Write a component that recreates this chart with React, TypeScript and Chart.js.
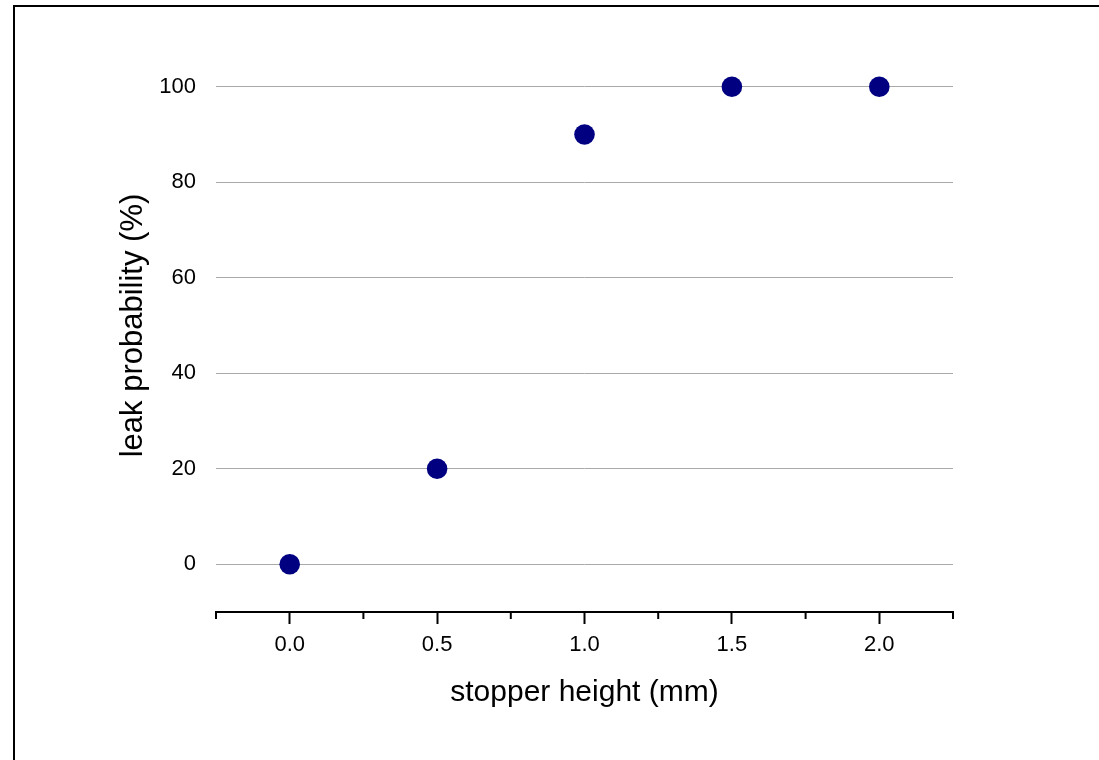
import React, { useEffect, useRef } from "react";
import { Chart, registerables } from "chart.js";

Chart.register(...registerables);

const stopperHeights = [0.0, 0.5, 1.0, 1.5, 2.0];
const leakProbability = [0, 20, 90, 100, 100];
const xMajorTicks = [0.0, 0.5, 1.0, 1.5, 2.0];
const xMinorTicks = [-0.25, 0.25, 0.75, 1.25, 1.75, 2.25];
const yTicks = [0, 20, 40, 60, 80, 100];
const xTitle = "stopper height (mm)";
const yTitle = "leak probability (%)";

const FONT = "'Liberation Sans', Arial, Helvetica, sans-serif";

const minorTickPlugin = {
  id: "minorTicks",
  afterDraw(chart: any) {
    const x = chart.scales.x;
    const ctx = chart.ctx;
    const y0 = chart.chartArea.bottom;
    ctx.save();
    ctx.strokeStyle = "#000";
    ctx.lineWidth = 2;
    xMinorTicks.forEach((v) => {
      const px = x.getPixelForValue(v);
      ctx.beginPath();
      ctx.moveTo(px, y0);
      ctx.lineTo(px, y0 + 7);
      ctx.stroke();
    });
    ctx.restore();
  },
};

export default function App() {
  const ref = useRef<HTMLCanvasElement | null>(null);
  useEffect(() => {
    if (!ref.current) return;
    const chart = new Chart(ref.current, {
      type: "scatter",
      data: {
        datasets: [
          {
            data: stopperHeights.map((x, i) => ({ x, y: leakProbability[i] })),
            backgroundColor: "#000080",
            borderColor: "#000080",
            borderWidth: 0,
            pointRadius: 10.3,
            pointHoverRadius: 10.3,
            showLine: false,
          },
        ],
      },
      options: {
        animation: false,
        responsive: false,
        maintainAspectRatio: false,
        layout: { padding: { left: 0, top: 39, right: 146, bottom: 0 } },
        plugins: { legend: { display: false }, tooltip: { enabled: false } },
        scales: {
          x: {
            type: "linear",
            min: -0.25,
            max: 2.25,
            afterFit: (s: any) => {
              s.height = 148;
            },
            afterBuildTicks: (s: any) => {
              s.ticks = xMajorTicks.map((v) => ({ value: v }));
            },
            ticks: {
              color: "#000",
              font: { family: FONT, size: 22 },
              padding: 8,
              maxRotation: 0,
              autoSkip: false,
              callback: (v: any) => Number(v).toFixed(1),
            },
            grid: {
              drawOnChartArea: false,
              drawTicks: true,
              tickLength: 12,
              tickColor: "#000",
              tickWidth: 2,
            },
            border: { display: true, color: "#000", width: 2 },
            title: {
              display: true,
              text: xTitle,
              color: "#000",
              font: { family: FONT, size: 30 },
              padding: { top: 0, bottom: 49 },
            },
          },
          y: {
            type: "linear",
            min: -10,
            max: 110,
            afterFit: (s: any) => {
              s.width = 216;
            },
            afterBuildTicks: (s: any) => {
              s.ticks = yTicks.map((v) => ({ value: v }));
            },
            ticks: {
              color: "#000",
              font: { family: FONT, size: 22 },
              padding: 20,
              autoSkip: false,
            },
            grid: {
              color: "#a9a9a9",
              lineWidth: 1,
              drawTicks: false,
            },
            border: { display: false },
            title: {
              display: true,
              text: yTitle,
              color: "#000",
              font: { family: FONT, size: 31 },
              padding: { top: 115, bottom: 0 },
            },
          },
        },
      },
      plugins: [minorTickPlugin],
    });
    return () => chart.destroy();
  }, []);

  return (
    <div
      style={{
        position: "fixed",
        left: 0,
        top: 0,
        width: 1099,
        height: 760,
        overflow: "hidden",
        background: "#fff",
      }}
    >
      <div
        style={{
          position: "absolute",
          left: 13,
          top: 5,
          width: 1200,
          height: 900,
          borderLeft: "2px solid #000",
          borderTop: "2px solid #000",
        }}
      />
      <canvas
        ref={ref}
        width={1099}
        height={760}
        style={{ position: "absolute", left: 0, top: 0, width: 1099, height: 760 }}
      />
    </div>
  );
}
